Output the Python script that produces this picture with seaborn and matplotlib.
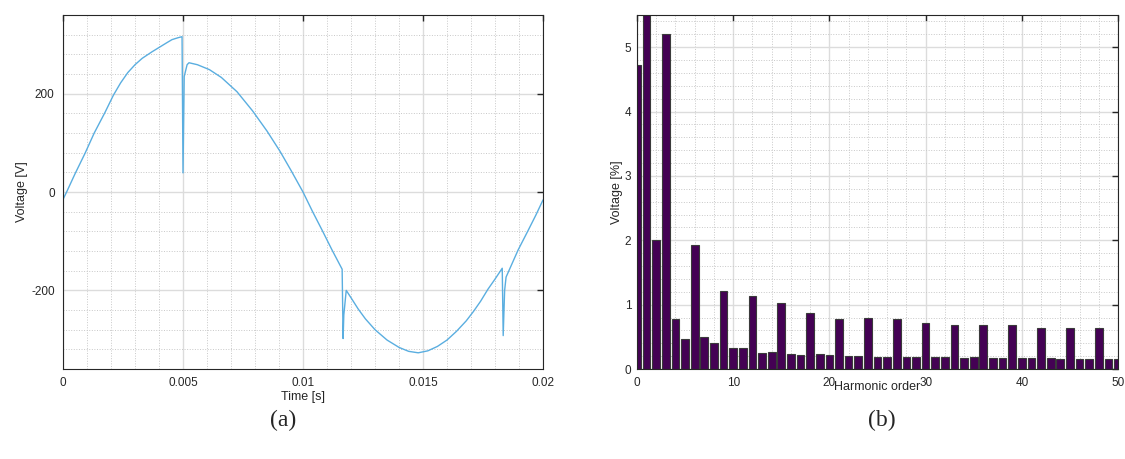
import numpy as np
import pandas as pd
import matplotlib
matplotlib.use("Agg")
import matplotlib.pyplot as plt
import seaborn as sns
from matplotlib.ticker import MultipleLocator

# ---- data ----
# (a) voltage waveform, time in seconds, voltage in V
time_s = [0.0, 0.00015, 0.0005, 0.00092, 0.0013, 0.00175, 0.0021, 0.0024, 0.0027,
          0.0030, 0.0033, 0.0037, 0.0040, 0.0043, 0.00454, 0.0048, 0.00496,
          0.00500, 0.00505, 0.00517, 0.00525, 0.0056, 0.0061, 0.0066, 0.00725,
          0.0079, 0.0085, 0.00904, 0.0095, 0.0100, 0.0104, 0.0108, 0.0112,
          0.01163, 0.01167, 0.0117, 0.0118, 0.0120, 0.0123, 0.0126, 0.0130,
          0.0135, 0.0140, 0.0144, 0.0148, 0.0152, 0.0156, 0.0160, 0.0164,
          0.0168, 0.0171, 0.0174, 0.0177, 0.0180, 0.0183, 0.01834, 0.0184,
          0.01846, 0.01896, 0.01938, 0.0197, 0.0200]
voltage_v = [-15, 0, 37, 79, 120, 162, 197, 222, 243,
             259, 272, 285, 294, 303, 310, 314, 316,
             39, 235, 259, 263, 259, 249, 233, 204,
             165, 124, 83, 44, 0, -40, -78, -117,
             -157, -298, -250, -200, -215, -238, -258, -280,
             -301, -316, -324, -327, -323, -314, -301, -283,
             -262, -243, -222, -198, -177, -155, -292, -200,
             -173, -118, -78, -47, -16]

# (b) harmonic spectrum, voltage in %
harmonic_order = list(range(0, 51))
harmonic_pct = [4.72, 5.80, 2.00, 5.21, 0.77, 0.47, 1.93, 0.49, 0.40, 1.21,
                0.32, 0.33, 1.13, 0.25, 0.26, 1.03, 0.24, 0.22, 0.87, 0.23,
                0.22, 0.78, 0.20, 0.20, 0.79, 0.19, 0.19, 0.77, 0.19, 0.18,
                0.71, 0.18, 0.18, 0.68, 0.17, 0.18, 0.69, 0.17, 0.17, 0.68,
                0.17, 0.17, 0.64, 0.17, 0.16, 0.63, 0.16, 0.16, 0.63, 0.16,
                0.16]

wave = pd.DataFrame({"t": time_s, "v": voltage_v})
spec = pd.DataFrame({"h": harmonic_order, "p": harmonic_pct})

sns.set_style("white")
plt.rcParams['font.family'] = ['Liberation Sans', 'DejaVu Sans']
plt.rcParams['axes.unicode_minus'] = False

fig = plt.figure(figsize=(11.25, 4.59), dpi=100)
ax1 = fig.add_axes([0.056, 0.196, 0.4267, 0.7712])
ax2 = fig.add_axes([0.5662, 0.196, 0.4276, 0.7712])

# ---- (a) waveform ----
sns.lineplot(data=wave, x="t", y="v", sort=False, estimator=None,
             color="#5aaee0", linewidth=1.0, ax=ax1)
ax1.set_xlim(0, 0.02)
ax1.set_ylim(-360, 360)
ax1.xaxis.set_major_locator(MultipleLocator(0.005))
ax1.xaxis.set_minor_locator(MultipleLocator(0.001))
ax1.yaxis.set_major_locator(MultipleLocator(200))
ax1.yaxis.set_minor_locator(MultipleLocator(40))
ax1.set_xticks([0, 0.005, 0.01, 0.015, 0.02])
ax1.set_xticklabels(["0", "0.005", "0.01", "0.015", "0.02"])
ax1.set_xlabel("Time [s]", fontsize=9, labelpad=1)
ax1.set_ylabel("Voltage [V]", fontsize=9, labelpad=2)

# ---- (b) spectrum ----
sns.barplot(data=spec, x="h", y="p", native_scale=True, color="#440154",
            saturation=1, width=0.8, edgecolor="#3a3a3a", linewidth=0.8, ax=ax2)
ax2.set_xlim(0, 50)
ax2.set_ylim(0, 5.5)
ax2.xaxis.set_major_locator(MultipleLocator(10))
ax2.xaxis.set_minor_locator(MultipleLocator(2))
ax2.yaxis.set_major_locator(MultipleLocator(1))
ax2.yaxis.set_minor_locator(MultipleLocator(0.2))
ax2.set_xlabel("Harmonic order", fontsize=9, labelpad=-6)

for ax in (ax1, ax2):
    ax.set_axisbelow(True)
    ax.grid(True, which="major", color="#dcdcdc", linewidth=1.0, linestyle="-")
    ax.grid(True, which="minor", color="#c8c8c8", linewidth=0.7, linestyle=":")
    ax.tick_params(which="major", direction="in", length=4, width=1,
                   top=True, right=True, labelsize=8.5, colors="#262626",
                   pad=6)
    ax.tick_params(which="minor", length=0)
    for s in ax.spines.values():
        s.set_color("#262626")
        s.set_linewidth(0.8)

ax2.tick_params(axis="y", which="major", pad=4)
ax2.set_ylabel("Voltage [%]", fontsize=9, labelpad=1)

fig.text(0.2516, 0.085, "(a)", fontsize=17, family="Liberation Serif",
         ha="center", va="center")
fig.text(0.784, 0.085, "(b)", fontsize=17, family="Liberation Serif",
         ha="center", va="center")

fig.savefig("out.png", dpi=100)
